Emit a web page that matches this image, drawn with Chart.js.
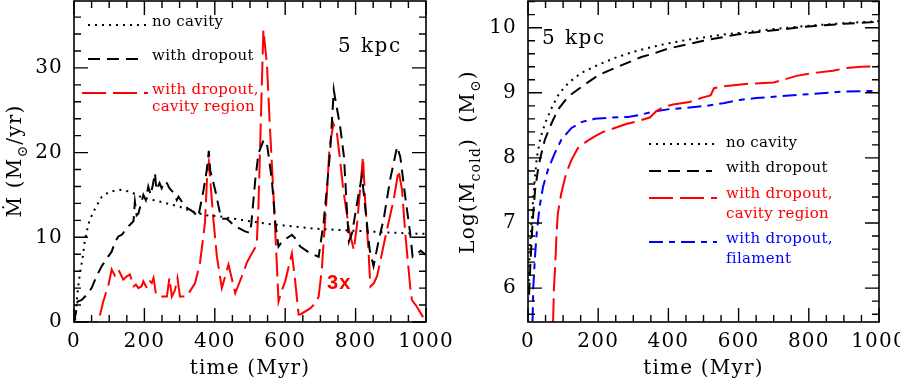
<!DOCTYPE html>
<html><head><meta charset="utf-8">
<script src="https://cdn.jsdelivr.net/npm/chart.js@4/dist/chart.umd.min.js"></script>
<style>
html,body{margin:0;padding:0;background:#fff;overflow:hidden;width:900px;height:381px;position:relative;}
#ca{position:absolute;left:0;top:0;}
#cb{position:absolute;left:440px;top:0;}
</style></head><body>
<canvas id="ca" width="460" height="381"></canvas>
<canvas id="cb" width="480" height="381"></canvas>
<script>
// ---------- LEFT PANEL DATA (Mdot, Msun/yr vs time Myr) ----------
const noCavT = [3,6,8,12,17,25,31,38,45,60,79,102,131,159,188,225,264,301,339,377,410,453,500,548,595,643,690,737,785,832,880,927,1000];
const noCavV = [0.2,1.5,2.6,4.2,5.8,7.7,9.7,11.0,12.1,13.4,14.8,15.4,15.6,15.4,14.8,14.4,14.0,13.6,13.0,12.6,12.5,12.2,11.9,11.6,11.4,11.2,11.0,10.9,10.8,10.7,10.6,10.5,10.4];

const dropT = [0,5,10,22,36,50,64,79,93,107,117,126,136,150,169,173,178,183,188,197,204,211,218,224,230,234,243,249,256,264,271,284,292,297,316,339,353,368,377,383,387,401,415,420,434,458,486,500,504,515,524,539,548,562,572,581,591,619,628,643,671,695,709,718,728,738,742,756,767,775,781,790,800,808,818,830,840,851,865,880,898,918,927,941,955,962,975,985,1000];
const dropV = [0,1.0,2.4,2.6,3.2,4.0,5.4,6.6,7.5,8.3,9.5,10.1,10.3,11.1,11.9,14.2,12.6,12.8,13.6,15.0,14.4,16.0,15.0,16.2,17.6,15.6,16.4,15.8,16.6,16.4,15.8,15.2,14.4,14.8,13.6,13.0,12.4,15.6,17.9,20.2,17.9,15.6,12.8,12.2,12.2,11.3,10.7,10.5,11.7,16.8,19.9,21.5,21.1,16.8,11.7,8.9,9.5,10.3,9.9,8.9,8.1,7.7,11.7,15.6,20.3,27.4,26.4,23.1,19.5,13.5,9.5,10.5,13.0,15.0,17.2,12.5,8.5,6.6,9.5,12.2,16.8,20.7,19.5,14.8,10.5,7.7,8.1,8.4,7.9];

const cavT = [0,69,83,98,107,116,126,140,150,159,169,176,183,192,197,202,207,216,221,226,233,249,264,271,278,287,294,301,320,344,358,372,379,383,396,406,420,439,458,477,491,505,519,524,538,548,557,567,576,581,591,600,619,628,638,643,671,685,695,704,718,726,737,747,757,765,775,781,795,804,811,821,827,837,842,852,861,889,908,922,932,941,955,960,974,1000];
const cavV = [0,0,2.4,4.4,6.2,5.5,6.2,5.0,5.4,5.6,4.2,4.4,4.0,4.2,4.8,4.4,4.0,4.8,4.6,5.2,3.2,3.0,3.0,5.2,3.0,3.8,5.2,3.0,3.0,4.6,7.0,11.7,17.9,18.9,12.1,7.7,4.0,6.8,3.4,5.4,7.0,8.1,9.1,13.6,34.5,30.5,22.7,14.8,7.0,2.4,3.8,4.8,8.1,5.0,0.9,0.9,1.6,2.2,3.0,6.2,14.8,20.7,23.4,22.3,18.7,15.6,12.8,10.9,8.5,11.5,14.8,19.5,14.4,8.1,4.2,4.6,5.4,10.9,14.4,17.9,15.6,10.5,4.2,2.6,1.8,0];

// ---------- RIGHT PANEL DATA (log M_cold vs time) ----------
const rNoCavT = [2,5,10,15,20,25,35,50,70,90,115,150,200,250,300,350,400,450,500,550,600,700,800,900,1000];
const rNoCavV = [6.0,6.6,7.0,7.4,7.7,8.0,8.3,8.55,8.8,9.0,9.15,9.3,9.43,9.54,9.63,9.7,9.76,9.81,9.85,9.89,9.92,9.98,10.03,10.07,10.1];

const rDropT = [3,8,13,20,28,35,48,67,85,114,152,200,256,323,356,400,450,500,550,600,700,800,900,1000];
const rDropV = [5.9,6.5,7.0,7.5,7.8,8.0,8.28,8.53,8.74,8.94,9.09,9.27,9.40,9.55,9.6,9.68,9.74,9.8,9.85,9.9,9.96,10.02,10.06,10.09];

const rCavT = [69,74,78,81,85,95,109,124,142,166,190,214,247,280,309,347,366,385,413,460,499,520,530,556,632,700,727,765,822,869,907,950,1000];
const rCavV = [5.0,6.0,6.4,6.8,7.15,7.46,7.77,7.97,8.15,8.25,8.33,8.4,8.46,8.52,8.56,8.62,8.72,8.78,8.82,8.86,8.93,8.96,9.07,9.1,9.14,9.16,9.2,9.26,9.31,9.34,9.38,9.40,9.41];

const rFilT = [11,15,19,24,33,43,57,76,95,124,152,190,238,285,318,356,404,450,508,556,603,650,700,800,900,1000];
const rFilV = [5.0,6.0,6.4,6.8,7.25,7.56,7.82,8.07,8.28,8.46,8.55,8.6,8.62,8.63,8.66,8.71,8.75,8.77,8.80,8.84,8.89,8.92,8.94,8.98,9.02,9.03];

// ---------- TICKS AND LABELS ----------
const xMajor = [0,200,400,600,800,1000];
const xMinor = [50,100,150,250,300,350,450,500,550,650,700,750,850,900,950];
const leftYMajor = [0,10,20,30];
const leftYMinor = [2,4,6,8,12,14,16,18,22,24,26,28,32,34,36];
const rightYMajor = [6,7,8,9,10];
const rightYMinor = [5.6,5.8,6.2,6.4,6.6,6.8,7.2,7.4,7.6,7.8,8.2,8.4,8.6,8.8,9.2,9.4,9.6,9.8,10.2,10.4];
const xTitle = 'time (Myr)';
const leftLegend = ['no cavity','with dropout','with dropout,','cavity region'];
const rightLegend = ['no cavity','with dropout','with dropout,','cavity region','with dropout,','filament'];
const scaleNote = '3x';

const SERIF = '"DejaVu Serif", "Liberation Serif", serif';
const RED = '#ff0000', BLUE = '#0000ff', BLACK = '#000000';
const DOT = [2,5], DASH = [12,7], LDASH = [24,7], DASHDOT = [14,6,6,6];

function pts(T,V){ return T.map((t,i)=>({x:t,y:V[i]})); }

function drawLine(ctx,x1,x2,y,color,dash){
  ctx.save(); ctx.strokeStyle=color; ctx.lineWidth=2; ctx.setLineDash(dash);
  ctx.beginPath(); ctx.moveTo(x1,y); ctx.lineTo(x2,y); ctx.stroke(); ctx.restore();
}
function drawRotTitle(ctx,cx,cy,parts,size){
  ctx.save(); ctx.translate(cx,cy); ctx.rotate(-Math.PI/2);
  ctx.letterSpacing='1.2px';
  let total=0;
  parts.forEach(p=>{ ctx.font=(p.sub?Math.round(size*0.68):size)+'px '+SERIF; p.w=ctx.measureText(p.t).width; total+=p.w; });
  let xx=-total/2; ctx.fillStyle='#000'; ctx.textBaseline='alphabetic';
  parts.forEach(p=>{ ctx.font=(p.sub?Math.round(size*0.68):size)+'px '+SERIF; ctx.fillText(p.t,xx,size*0.36+(p.sub?size*0.28:0)); xx+=p.w; });
  ctx.restore();
}

const decor = {
  id:'decor',
  beforeDraw(chart){ chart.ctx.letterSpacing='1.2px'; },
  afterDraw(chart, args, cfg){
    const ctx=chart.ctx, a=chart.chartArea, x=chart.scales.x, y=chart.scales.y;
    ctx.save();
    ctx.strokeStyle='#000'; ctx.lineWidth=1.4; ctx.setLineDash([]);
    ctx.beginPath();
    const tk=(vals,len,isX)=>vals.forEach(v=>{
      if(isX){ const p=x.getPixelForValue(v); ctx.moveTo(p,a.bottom); ctx.lineTo(p,a.bottom-len); ctx.moveTo(p,a.top); ctx.lineTo(p,a.top+len); }
      else { const p=y.getPixelForValue(v); ctx.moveTo(a.left,p); ctx.lineTo(a.left+len,p); ctx.moveTo(a.right,p); ctx.lineTo(a.right-len,p); }
    });
    tk(cfg.xMajor,14,true); tk(cfg.xMinor,7,true); tk(cfg.yMajor,14,false); tk(cfg.yMinor,7,false);
    ctx.stroke();
    ctx.lineWidth=1.6; ctx.strokeRect(a.left,a.top,a.right-a.left,a.bottom-a.top);
    ctx.restore();
    cfg.extra(ctx,a);
  }
};

function baseOpts(yMin,yMax,yMajor,yWidth,padRight){
  return {
    responsive:false, animation:false, events:[],
    layout:{padding:{left:0,right:padRight,top:1,bottom:0}},
    plugins:{legend:{display:false}, tooltip:{enabled:false}},
    elements:{point:{radius:0}, line:{tension:0, borderWidth:2, fill:false}},
    scales:{
      x:{type:'linear', min:0, max:1000,
        afterBuildTicks:s=>{ s.ticks=xMajor.map(v=>({value:v})); },
        afterFit:s=>{ s.height=59; s.paddingLeft=0; s.paddingRight=0; s.paddingTop=0; s.paddingBottom=0; },
        grid:{display:false, drawTicks:false}, border:{display:false},
        ticks:{color:'#000', font:{family:SERIF,size:20}, padding:8, maxRotation:0, autoSkip:false, callback:v=>String(v)},
        title:{display:true, text:xTitle, color:'#000', font:{family:SERIF,size:20}, padding:0}
      },
      y:{type:'linear', min:yMin, max:yMax,
        afterBuildTicks:s=>{ s.ticks=yMajor.map(v=>({value:v})); },
        afterFit:s=>{ s.width=yWidth; s.paddingTop=0; s.paddingBottom=0; s.paddingLeft=0; s.paddingRight=0; },
        grid:{display:false, drawTicks:false}, border:{display:false},
        ticks:{color:'#000', font:{family:SERIF,size:20}, padding:11, autoSkip:false, callback:v=>String(v)}
      }
    }
  };
}

function legendText(ctx,txt,x,y,color){
  ctx.save(); ctx.font='15px '+SERIF; ctx.letterSpacing='0.3px'; ctx.textBaseline='alphabetic';
  ctx.fillStyle=color; ctx.fillText(txt,x,y); ctx.restore();
}
function kpcText(ctx,x,y){
  ctx.save(); ctx.font='20px '+SERIF; ctx.letterSpacing='1.5px'; ctx.fillStyle=BLACK;
  ctx.fillText('5',x,y); ctx.fillText('kpc',x+23,y); ctx.restore();
}

// LEFT CHART
const optA = baseOpts(0,37.9,leftYMajor,74,34);
optA.plugins.decor = {xMajor, xMinor, yMajor:leftYMajor, yMinor:leftYMinor, extra:(ctx,a)=>{
  drawRotTitle(ctx,14,161,[{t:'\u1E40 (M'},{t:'\u2299',sub:true},{t:'/yr)'}],20);
  drawLine(ctx,88,148,25,BLACK,DOT);
  drawLine(ctx,88,145,59,BLACK,DASH);
  drawLine(ctx,82,148,93,RED,LDASH);
  legendText(ctx,leftLegend[0],152,26,BLACK);
  legendText(ctx,leftLegend[1],152,60,BLACK);
  legendText(ctx,leftLegend[2],152,94,RED);
  legendText(ctx,leftLegend[3],152,111,RED);
  kpcText(ctx,338,52);
  ctx.save(); ctx.fillStyle=RED; ctx.font='bold 20px "Liberation Sans", Arial, sans-serif'; ctx.fillText(scaleNote,327,289); ctx.restore();
}};
new Chart(document.getElementById('ca'),{
  type:'line',
  data:{datasets:[
    {data:pts(noCavT,noCavV), borderColor:BLACK, borderDash:DOT, borderWidth:2},
    {data:pts(dropT,dropV), borderColor:BLACK, borderDash:DASH, borderWidth:2},
    {data:pts(cavT,cavV), borderColor:RED, borderDash:LDASH, borderWidth:2}
  ]},
  options:optA, plugins:[decor]
});

// RIGHT CHART
const optB = baseOpts(5.48,10.41,rightYMajor,88,41);
optB.plugins.decor = {xMajor, xMinor, yMajor:rightYMajor, yMinor:rightYMinor, extra:(ctx,a)=>{
  drawRotTitle(ctx,27,162,[{t:'Log(M'},{t:'cold',sub:true},{t:')  (M'},{t:'\u2299',sub:true},{t:')'}],20);
  drawLine(ctx,209,277,144,BLACK,DOT);
  drawLine(ctx,209,272,171,BLACK,DASH);
  drawLine(ctx,209,277,198,RED,LDASH);
  drawLine(ctx,209,277,242,BLUE,DASHDOT);
  legendText(ctx,rightLegend[0],286,147,BLACK);
  legendText(ctx,rightLegend[1],286,172,BLACK);
  legendText(ctx,rightLegend[2],286,198,RED);
  legendText(ctx,rightLegend[3],286,218,RED);
  legendText(ctx,rightLegend[4],286,243,BLUE);
  legendText(ctx,rightLegend[5],286,263,BLUE);
  kpcText(ctx,102,44);
}};
new Chart(document.getElementById('cb'),{
  type:'line',
  data:{datasets:[
    {data:pts(rNoCavT,rNoCavV), borderColor:BLACK, borderDash:DOT, borderWidth:2},
    {data:pts(rDropT,rDropV), borderColor:BLACK, borderDash:DASH, borderWidth:2},
    {data:pts(rCavT,rCavV), borderColor:RED, borderDash:LDASH, borderWidth:2},
    {data:pts(rFilT,rFilV), borderColor:BLUE, borderDash:DASHDOT, borderWidth:2}
  ]},
  options:optB, plugins:[decor]
});
</script>
</body></html>
